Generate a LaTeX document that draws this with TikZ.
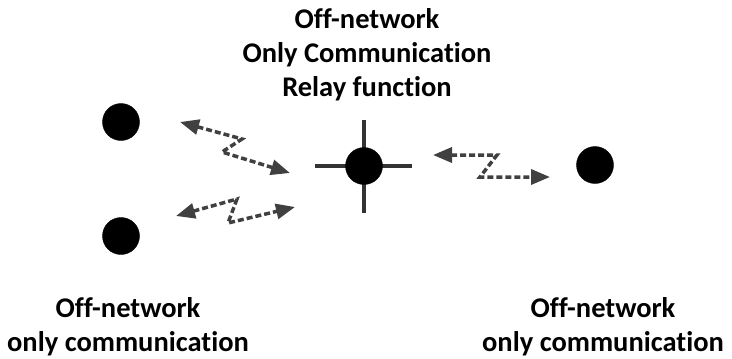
\documentclass[tikz,border=0pt]{standalone}
\usepackage{fontspec}
\setmainfont{Carlito}[Ligatures=NoCommon]
\usetikzlibrary{arrows.meta}
\definecolor{fleche}{HTML}{404040}
\definecolor{croix}{HTML}{333333}

\begin{document}
\begin{tikzpicture}[x=1pt, y=-1pt, >={Triangle[length=19pt,width=15pt]},
  every node/.style={font=\bfseries\fontsize{28.5}{34}\selectfont},
  terminal/.style={circle, fill=black, draw=black, inner sep=0pt, minimum size=37pt},
  liaison/.style={<->, fleche, line width=3.5pt, dash pattern=on 6pt off 3pt}]

  \useasboundingbox (0,0) rectangle (732,359);

  % === TERMINAUX ===
  \draw[croix, line width=3.5pt] (315,166) -- (412,166);
  \draw[croix, line width=3.5pt] (364,120) -- (364,213);
  \node[terminal] (relais) at (364,166) {};
  \node[terminal] (hautG) at (121,122) {};
  \node[terminal] (basG) at (121,236) {};
  \node[terminal] (droite) at (595,165) {};

  % === TEXTES ===
  \node[align=center] (txtRelais) at (367,55) {Off-network\\Only Communication\\Relay function};
  \node[align=center] (txtG) at (128,327) {Off-network\\only communication};
  \node[align=center] (txtD) at (603,327) {Off-network\\only communication};

  % === LIAISONS ===
  \coordinate (a1) at (180,122);
  \coordinate (b1) at (290,173);
  \coordinate (a2) at (176,216);
  \coordinate (b2) at (295,207);
  \coordinate (a3) at (433,155);
  \coordinate (b3) at (550,177);
  \draw[liaison] (a1) -- (242,139) -- (222,152) -- (b1);
  \draw[liaison] (a2) -- (237,199) -- (228,223) -- (b2);
  \draw[liaison] (a3) -- (497,155) -- (480,177) -- (b3);

\end{tikzpicture}
\end{document}
